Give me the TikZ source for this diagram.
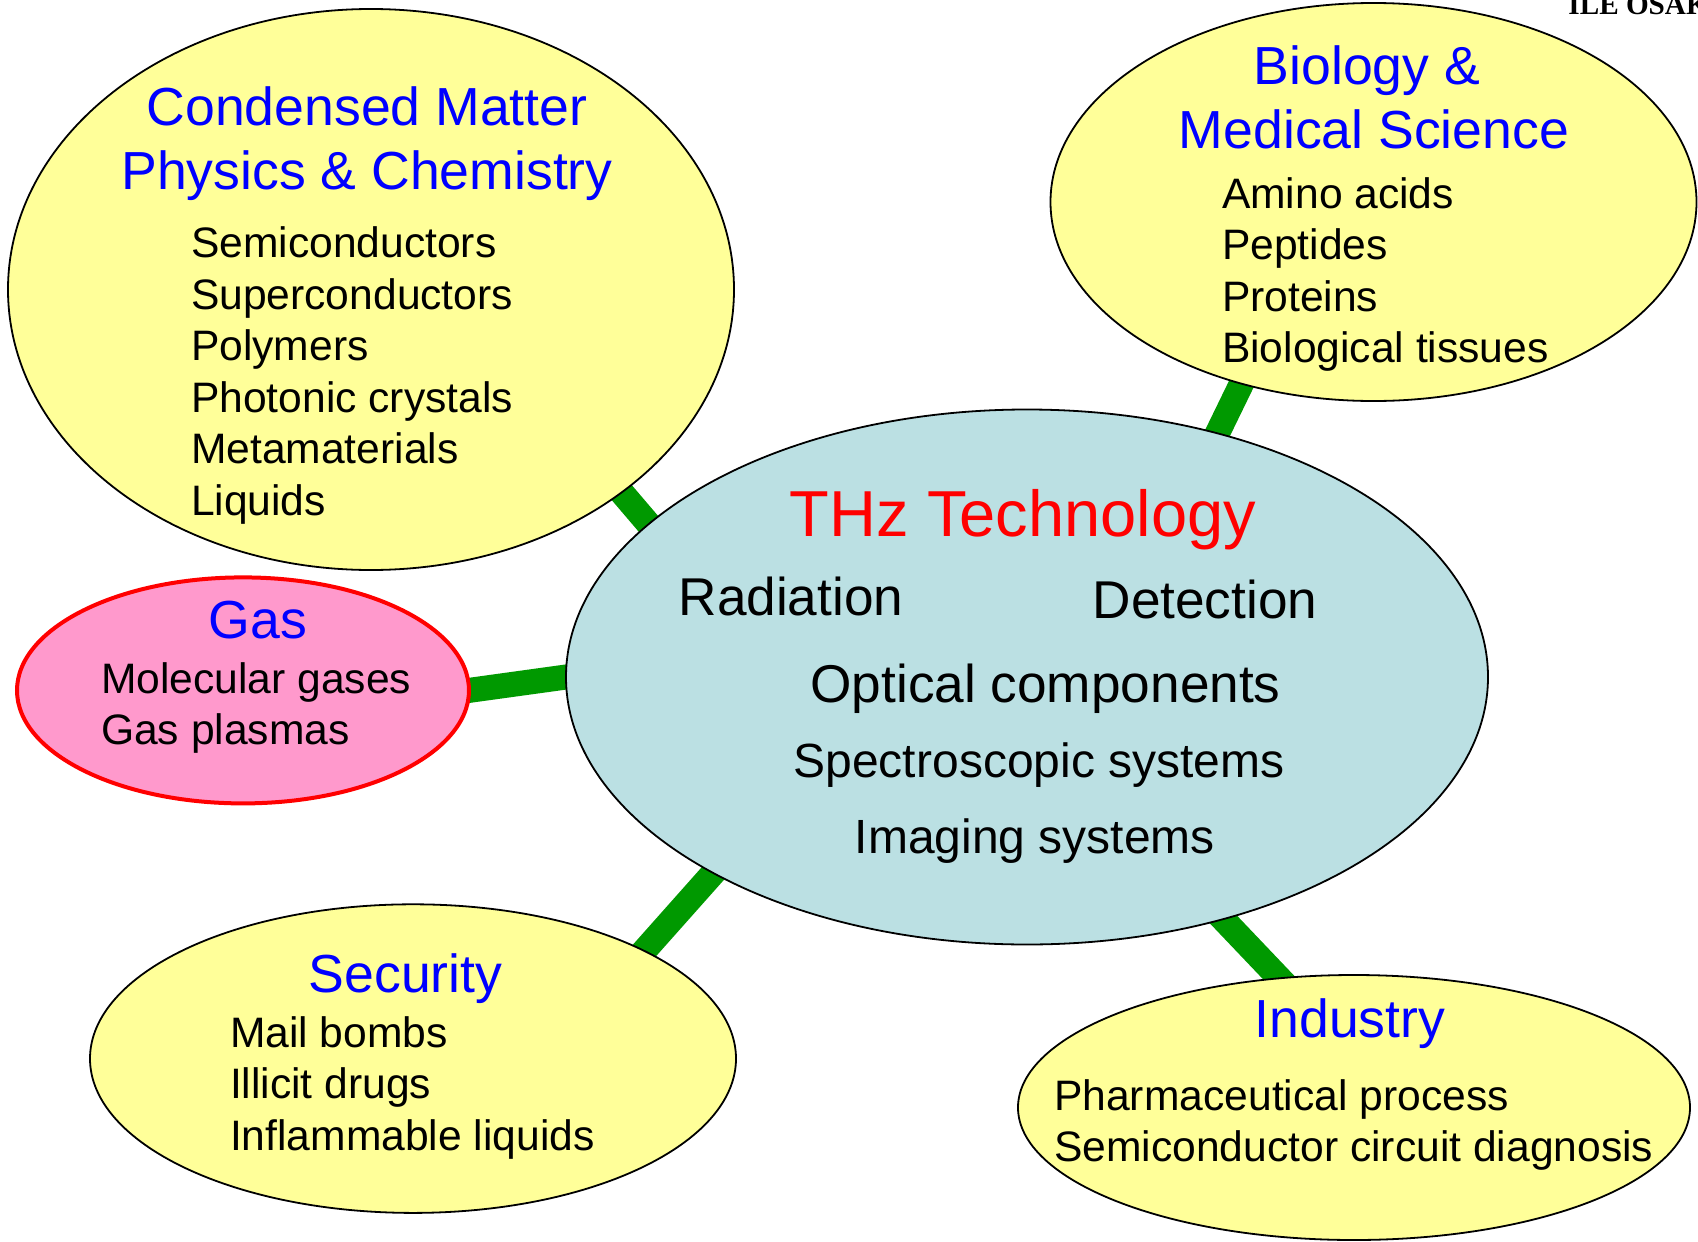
\documentclass[tikz,border=0pt]{standalone}
\usepackage{fontspec}
\setmainfont{Liberation Sans}
\newfontfamily\markfont{Liberation Serif}
\usetikzlibrary{shapes.geometric,backgrounds}
\definecolor{fieldyellow}{RGB}{255,255,153}
\definecolor{coreblue}{RGB}{187,224,227}
\definecolor{gaspink}{RGB}{255,153,204}
\definecolor{linkgreen}{RGB}{0,153,0}
\tikzset{
    field/.style={ellipse, draw=black, line width=0.9pt, fill=fieldyellow, inner sep=0pt, outer sep=0pt},
    title/.style={text=blue, font=\fontsize{26.8}{30}\selectfont, anchor=base, inner sep=0pt},
    item/.style={font=\fontsize{21.3}{25}\selectfont, anchor=base west, inner sep=0pt},
    core/.style={font=\fontsize{26.6}{30}\selectfont, anchor=base, inner sep=0pt},
    coresmall/.style={font=\fontsize{24}{28}\selectfont, anchor=base, inner sep=0pt},
    link/.style={draw=linkgreen, line width=12.5pt, shorten <=-8pt, shorten >=-8pt}
}
\begin{document}
\begin{tikzpicture}[x=0.5pt, y=-0.5pt]
    \useasboundingbox (0,0) rectangle (1698,1242);

    % the fields
    \node[field, minimum width=363pt, minimum height=280.5pt] (cmp) at (371,289.5) {};
    \node[field, minimum width=323pt, minimum height=199pt] (bio) at (1373.5,202) {};
    \node[field, draw=red, line width=2pt, fill=gaspink, minimum width=226pt, minimum height=113pt] (gas) at (243,690.4) {};
    \node[field, minimum width=323pt, minimum height=154.3pt] (sec) at (413,1058.6) {};
    \node[field, minimum width=336pt, minimum height=132.5pt] (ind) at (1354,1107.5) {};
    \node[field, fill=coreblue, minimum width=461pt, minimum height=267.5pt] (thz) at (1027,677) {};

    % green bars behind the ellipses
    \begin{pgfonlayer}{background}
        \draw[link] (cmp.-39.8) -- (thz.158.2);
        \draw[link] (bio.-126.4) -- (thz.52.4);
        \draw[link] (gas.0.6) -- (thz.180.4);
        \draw[link] (sec.25.3) -- (thz.212.7);
        \draw[link] (thz.-51.1) -- (ind.120.1);
    \end{pgfonlayer}

    % centre
    \node[core, text=red, font=\fontsize{32.5}{36}\selectfont] (thz-t) at (1023,536) {THz Technology};
    \node[core] (thz-rad) at (791,615.7) {Radiation};
    \node[core] (thz-det) at (1205,618) {Detection};
    \node[core] (thz-opt) at (1045.6,702.4) {Optical components};
    \node[coresmall] (thz-spec) at (1039,777.6) {Spectroscopic systems};
    \node[coresmall] (thz-img) at (1034.8,853.4) {Imaging systems};

    % condensed matter
    \node[title] (cmp-t1) at (367,125) {Condensed Matter};
    \node[title] (cmp-t2) at (367,189) {Physics \& Chemistry};
    \foreach \txt [count=\i] in {Semiconductors, Superconductors, Polymers,
            Photonic crystals, Metamaterials, Liquids}
        \node[item] (cmp-\i) at (190.6,{257.8+51.5*(\i-1)}) {\txt};

    % biology
    \node[title] (bio-t1) at (1367,84) {Biology \&};
    \node[title] (bio-t2) at (1374,148) {Medical Science};
    \foreach \txt [count=\i] in {Amino acids, Peptides, Proteins, Biological tissues}
        \node[item] (bio-\i) at (1221.6,{208+51.6*(\i-1)}) {\txt};

    % gas
    \node[title] (gas-t) at (257.7,638.5) {Gas};
    \foreach \txt [count=\i] in {Molecular gases, Gas plasmas}
        \node[item] (gas-\i) at (100.7,{693+51.5*(\i-1)}) {\txt};

    % security
    \node[title] (sec-t) at (405.6,992.6) {Security};
    \foreach \txt [count=\i] in {Mail bombs, Illicit drugs, Inflammable liquids}
        \node[item] (sec-\i) at (229.6,{1047+51.5*(\i-1)}) {\txt};

    % industry
    \node[title] (ind-t) at (1350,1037) {Industry};
    \foreach \txt [count=\i] in {Pharmaceutical process, Semiconductor circuit diagnosis}
        \node[item] (ind-\i) at (1053.8,{1110+51*(\i-1)}) {\txt};

    \node[anchor=base west, inner sep=0pt, font=\markfont\bfseries\fontsize{14.6}{17}\selectfont] (mark) at (1568,14) {ILE OSAKA};
\end{tikzpicture}
\end{document}
